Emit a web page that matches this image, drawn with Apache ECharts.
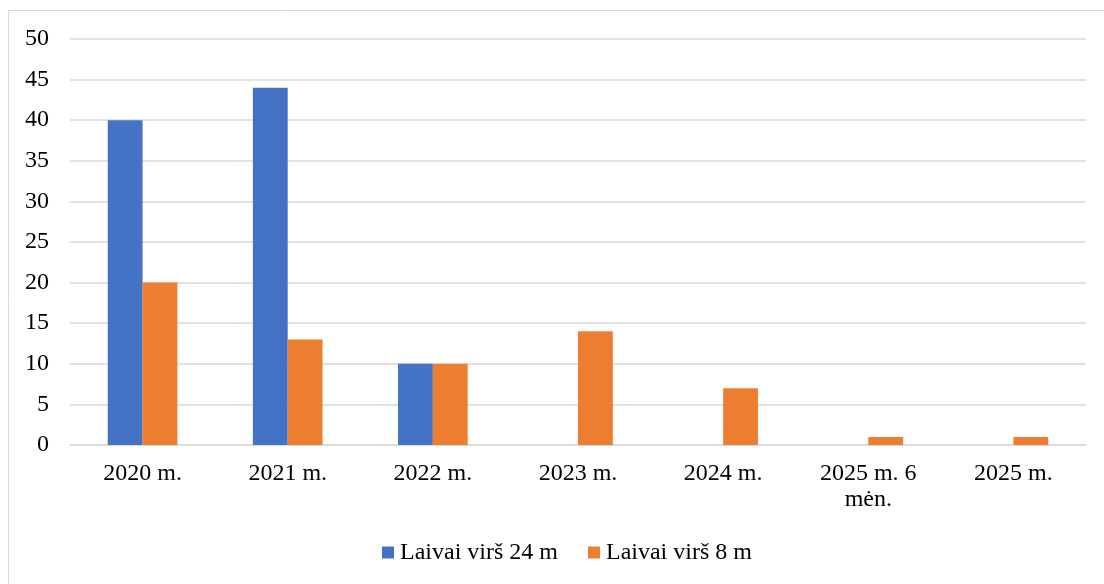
<!DOCTYPE html>
<html>
<head>
<meta charset="utf-8">
<script src="https://cdn.jsdelivr.net/npm/echarts@6/dist/echarts.min.js"></script>
<style>
  html, body { margin: 0; padding: 0; background: #fff; }
  #main { width: 1104px; height: 584px; }
</style>
</head>
<body>
<div id="main"></div>
<script>
  // kategorijos (metai)
  var years = ['2020 m.', '2021 m.', '2022 m.', '2023 m.', '2024 m.', '2025 m. 6\nmėn.', '2025 m.'];
  // laivai virš 24 m
  var over24 = [40, 44, 10, 0, 0, 0, 0];
  // laivai virš 8 m
  var over8 = [20, 13, 10, 14, 7, 1, 1];

  var font = 'Liberation Serif, Times New Roman, serif';
  var chart = echarts.init(document.getElementById('main'));

  chart.setOption({
    backgroundColor: '#fff',
    animation: false,
    textStyle: { fontFamily: font },
    // rėmelis aplink diagramą
    graphic: [{
      type: 'rect',
      shape: { x: 8.5, y: 10.5, width: 1110, height: 600 },
      style: { fill: 'none', stroke: '#d9d9d9', lineWidth: 1 },
      silent: true
    }],
    grid: { left: 70, right: 18, top: 39, bottom: 139, containLabel: false },
    legend: {
      left: 382,
      top: 539,
      padding: 0,
      icon: 'rect',
      itemWidth: 12,
      itemHeight: 12,
      itemGap: 30,
      textStyle: { fontFamily: font, fontSize: 24, color: '#000', padding: [0, 0, 0, 1], lineHeight: 27 },
      data: ['Laivai virš 24 m', 'Laivai virš 8 m']
    },
    xAxis: {
      type: 'category',
      data: years,
      axisLine: { lineStyle: { color: '#d9d9d9', width: 1.5 } },
      axisTick: { show: false },
      axisLabel: { color: '#000', fontFamily: font, fontSize: 24, lineHeight: 26, margin: 16, interval: 0 }
    },
    yAxis: {
      type: 'value',
      min: 0,
      max: 50,
      interval: 5,
      splitLine: { lineStyle: { color: '#d9d9d9', width: 1.5 } },
      axisLine: { show: false },
      axisTick: { show: false },
      axisLabel: { color: '#000', fontFamily: font, fontSize: 24, margin: 21 }
    },
    series: [{
      name: 'Laivai virš 24 m',
      type: 'bar',
      data: over24,
      barGap: '0%',
      barCategoryGap: '52%',
      itemStyle: { color: '#4472c4' }
    }, {
      name: 'Laivai virš 8 m',
      type: 'bar',
      data: over8,
      barGap: '0%',
      barCategoryGap: '52%',
      itemStyle: { color: '#ed7d31' }
    }]
  });
</script>
</body>
</html>
